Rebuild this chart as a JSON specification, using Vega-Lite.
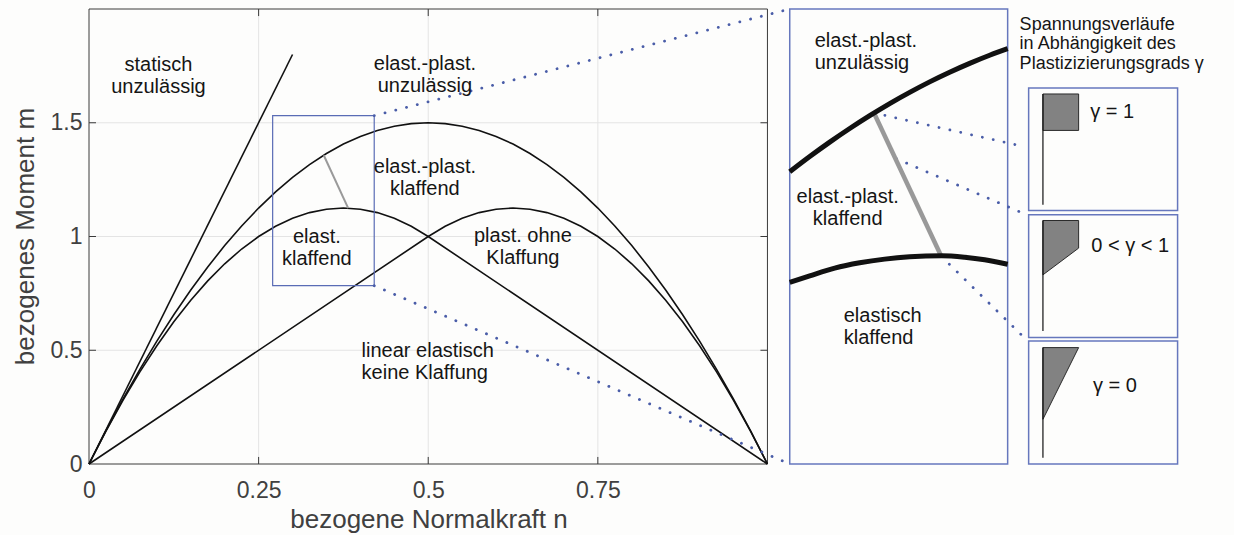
{
  "$schema": "https://vega.github.io/schema/vega-lite/v6.json",
  "width": 1133,
  "height": 455,
  "autosize": {"type": "none"},
  "padding": {"left": 89, "top": 9, "right": 12, "bottom": 71},
  "background": "#fdfdfc",
  "config": {"view": {"stroke": null}, "font": "Liberation Sans"},
  "datasets": {
    "grid": [
      {"x": 0.25, "x2": 0.25, "y": 0, "y2": 2},
      {"x": 0.5, "x2": 0.5, "y": 0, "y2": 2},
      {"x": 0.75, "x2": 0.75, "y": 0, "y2": 2},
      {"x": 0, "x2": 1, "y": 0.5, "y2": 0.5},
      {"x": 0, "x2": 1, "y": 1, "y2": 1},
      {"x": 0, "x2": 1, "y": 1.5, "y2": 1.5}
    ],
    "ticks": [
      {"x": 0.25, "x2": 0.25, "y": 0, "y2": 0.031},
      {"x": 0.5, "x2": 0.5, "y": 0, "y2": 0.031},
      {"x": 0.75, "x2": 0.75, "y": 0, "y2": 0.031},
      {"x": 0.25, "x2": 0.25, "y": 2, "y2": 1.969},
      {"x": 0.5, "x2": 0.5, "y": 2, "y2": 1.969},
      {"x": 0.75, "x2": 0.75, "y": 2, "y2": 1.969},
      {"x": 0, "x2": 0.0103, "y": 0.5, "y2": 0.5},
      {"x": 0, "x2": 0.0103, "y": 1, "y2": 1},
      {"x": 0, "x2": 0.0103, "y": 1.5, "y2": 1.5},
      {"x": 0.9897, "x2": 1, "y": 0.5, "y2": 0.5},
      {"x": 0.9897, "x2": 1, "y": 1, "y2": 1},
      {"x": 0.9897, "x2": 1, "y": 1.5, "y2": 1.5}
    ],
    "frame": [{"x": 0, "x2": 1, "y": 0, "y2": 2}],
    "curves": [
      {"curve": "statisch", "x": 0, "y": 0},
      {"curve": "statisch", "x": 0.3, "y": 1.8},
      {"curve": "parabel", "x": 0, "y": 0},
      {"curve": "parabel", "x": 0.025, "y": 0.14625},
      {"curve": "parabel", "x": 0.05, "y": 0.285},
      {"curve": "parabel", "x": 0.075, "y": 0.41625},
      {"curve": "parabel", "x": 0.1, "y": 0.54},
      {"curve": "parabel", "x": 0.125, "y": 0.65625},
      {"curve": "parabel", "x": 0.15, "y": 0.765},
      {"curve": "parabel", "x": 0.175, "y": 0.86625},
      {"curve": "parabel", "x": 0.2, "y": 0.96},
      {"curve": "parabel", "x": 0.225, "y": 1.04625},
      {"curve": "parabel", "x": 0.25, "y": 1.125},
      {"curve": "parabel", "x": 0.275, "y": 1.19625},
      {"curve": "parabel", "x": 0.3, "y": 1.26},
      {"curve": "parabel", "x": 0.325, "y": 1.31625},
      {"curve": "parabel", "x": 0.35, "y": 1.365},
      {"curve": "parabel", "x": 0.375, "y": 1.40625},
      {"curve": "parabel", "x": 0.4, "y": 1.44},
      {"curve": "parabel", "x": 0.425, "y": 1.46625},
      {"curve": "parabel", "x": 0.45, "y": 1.485},
      {"curve": "parabel", "x": 0.475, "y": 1.49625},
      {"curve": "parabel", "x": 0.5, "y": 1.5},
      {"curve": "parabel", "x": 0.525, "y": 1.49625},
      {"curve": "parabel", "x": 0.55, "y": 1.485},
      {"curve": "parabel", "x": 0.575, "y": 1.46625},
      {"curve": "parabel", "x": 0.6, "y": 1.44},
      {"curve": "parabel", "x": 0.625, "y": 1.40625},
      {"curve": "parabel", "x": 0.65, "y": 1.365},
      {"curve": "parabel", "x": 0.675, "y": 1.31625},
      {"curve": "parabel", "x": 0.7, "y": 1.26},
      {"curve": "parabel", "x": 0.725, "y": 1.19625},
      {"curve": "parabel", "x": 0.75, "y": 1.125},
      {"curve": "parabel", "x": 0.775, "y": 1.04625},
      {"curve": "parabel", "x": 0.8, "y": 0.96},
      {"curve": "parabel", "x": 0.825, "y": 0.86625},
      {"curve": "parabel", "x": 0.85, "y": 0.765},
      {"curve": "parabel", "x": 0.875, "y": 0.65625},
      {"curve": "parabel", "x": 0.9, "y": 0.54},
      {"curve": "parabel", "x": 0.925, "y": 0.41625},
      {"curve": "parabel", "x": 0.95, "y": 0.285},
      {"curve": "parabel", "x": 0.975, "y": 0.14625},
      {"curve": "parabel", "x": 1, "y": 0},
      {"curve": "elastisch", "x": 0, "y": 0},
      {"curve": "elastisch", "x": 0.025, "y": 0.145},
      {"curve": "elastisch", "x": 0.05, "y": 0.28},
      {"curve": "elastisch", "x": 0.075, "y": 0.405},
      {"curve": "elastisch", "x": 0.1, "y": 0.52},
      {"curve": "elastisch", "x": 0.125, "y": 0.625},
      {"curve": "elastisch", "x": 0.15, "y": 0.72},
      {"curve": "elastisch", "x": 0.175, "y": 0.805},
      {"curve": "elastisch", "x": 0.2, "y": 0.88},
      {"curve": "elastisch", "x": 0.225, "y": 0.945},
      {"curve": "elastisch", "x": 0.25, "y": 1.0},
      {"curve": "elastisch", "x": 0.275, "y": 1.045},
      {"curve": "elastisch", "x": 0.3, "y": 1.08},
      {"curve": "elastisch", "x": 0.325, "y": 1.105},
      {"curve": "elastisch", "x": 0.35, "y": 1.12},
      {"curve": "elastisch", "x": 0.375, "y": 1.125},
      {"curve": "elastisch", "x": 0.4, "y": 1.12},
      {"curve": "elastisch", "x": 0.425, "y": 1.105},
      {"curve": "elastisch", "x": 0.45, "y": 1.08},
      {"curve": "elastisch", "x": 0.475, "y": 1.045},
      {"curve": "elastisch", "x": 0.5, "y": 1.0},
      {"curve": "elastisch", "x": 1, "y": 0},
      {"curve": "plastisch", "x": 0, "y": 0},
      {"curve": "plastisch", "x": 0.5, "y": 1.0},
      {"curve": "plastisch", "x": 0.525, "y": 1.045},
      {"curve": "plastisch", "x": 0.55, "y": 1.08},
      {"curve": "plastisch", "x": 0.575, "y": 1.105},
      {"curve": "plastisch", "x": 0.6, "y": 1.12},
      {"curve": "plastisch", "x": 0.625, "y": 1.125},
      {"curve": "plastisch", "x": 0.65, "y": 1.12},
      {"curve": "plastisch", "x": 0.675, "y": 1.105},
      {"curve": "plastisch", "x": 0.7, "y": 1.08},
      {"curve": "plastisch", "x": 0.725, "y": 1.045},
      {"curve": "plastisch", "x": 0.75, "y": 1.0},
      {"curve": "plastisch", "x": 0.775, "y": 0.945},
      {"curve": "plastisch", "x": 0.8, "y": 0.88},
      {"curve": "plastisch", "x": 0.825, "y": 0.805},
      {"curve": "plastisch", "x": 0.85, "y": 0.72},
      {"curve": "plastisch", "x": 0.875, "y": 0.625},
      {"curve": "plastisch", "x": 0.9, "y": 0.52},
      {"curve": "plastisch", "x": 0.925, "y": 0.405},
      {"curve": "plastisch", "x": 0.95, "y": 0.28},
      {"curve": "plastisch", "x": 0.975, "y": 0.145},
      {"curve": "plastisch", "x": 1, "y": 0}
    ],
    "greyMain": [{"x": 0.346, "y": 1.357, "x2": 0.382, "y2": 1.125}],
    "zoomRect": [{"x": 0.2707, "x2": 0.4204, "y": 0.784, "y2": 1.531}],
    "dotted": [
      {"x": 0.4204, "y": 1.531, "x2": 1.03286, "y2": 2.0},
      {"x": 0.4204, "y": 0.784, "x2": 1.03286, "y2": 0.0},
      {"x": 1.15706, "y": 1.54289, "x2": 1.37911, "y2": 1.39463},
      {"x": 1.19007, "y": 1.34184, "x2": 1.38206, "y2": 1.09547},
      {"x": 1.25637, "y": 0.91201, "x2": 1.38309, "y2": 0.54245}
    ],
    "boxes": [
      {"x": 1.03286, "x2": 1.35406, "y": 0, "y2": 2},
      {"x": 1.385, "x2": 1.60454, "y": 1.11439, "y2": 1.65288},
      {"x": 1.385, "x2": 1.60454, "y": 0.55566, "y2": 1.09547},
      {"x": 1.385, "x2": 1.60454, "y": 0, "y2": 0.54113}
    ],
    "insetCurves": [
      {"curve": "oben", "x": 1.03286, "y": 1.2846},
      {"curve": "oben", "x": 1.06233, "y": 1.3515},
      {"curve": "oben", "x": 1.0918, "y": 1.4149},
      {"curve": "oben", "x": 1.12126, "y": 1.4747},
      {"curve": "oben", "x": 1.15073, "y": 1.5312},
      {"curve": "oben", "x": 1.1802, "y": 1.5843},
      {"curve": "oben", "x": 1.20966, "y": 1.6335},
      {"curve": "oben", "x": 1.23913, "y": 1.6797},
      {"curve": "oben", "x": 1.2686, "y": 1.722},
      {"curve": "oben", "x": 1.29807, "y": 1.7611},
      {"curve": "oben", "x": 1.32754, "y": 1.7968},
      {"curve": "oben", "x": 1.35406, "y": 1.8258},
      {"curve": "unten", "x": 1.03286, "y": 0.7985},
      {"curve": "unten", "x": 1.06233, "y": 0.8271},
      {"curve": "unten", "x": 1.09916, "y": 0.86098},
      {"curve": "unten", "x": 1.136, "y": 0.88429},
      {"curve": "unten", "x": 1.17283, "y": 0.90057},
      {"curve": "unten", "x": 1.20966, "y": 0.91069},
      {"curve": "unten", "x": 1.25681, "y": 0.91509},
      {"curve": "unten", "x": 1.2907, "y": 0.90849},
      {"curve": "unten", "x": 1.32017, "y": 0.89749},
      {"curve": "unten", "x": 1.35406, "y": 0.8777}
    ],
    "greyInset": [{"x": 1.15706, "y": 1.54289, "x2": 1.25637, "y2": 0.91201}],
    "stems": [
      {"x": 1.40607, "x2": 1.40607, "y": 1.62649, "y2": 1.13946},
      {"x": 1.40607, "x2": 1.40607, "y": 1.07039, "y2": 0.58513},
      {"x": 1.40607, "x2": 1.40607, "y": 0.51166, "y2": 0.02772}
    ],
    "stress": [
      {"shape": "g1", "y": 1.62649, "x": 1.45867, "x2": 1.40607},
      {"shape": "g1", "y": 1.46634, "x": 1.45867, "x2": 1.40607},
      {"shape": "g2", "y": 1.07039, "x": 1.45867, "x2": 1.40607},
      {"shape": "g2", "y": 0.94897, "x": 1.45867, "x2": 1.40607},
      {"shape": "g2", "y": 0.8315, "x": 1.40607, "x2": 1.40607},
      {"shape": "g3", "y": 0.51166, "x": 1.45867, "x2": 1.40607},
      {"shape": "g3", "y": 0.19666, "x": 1.40607, "x2": 1.40607}
    ],
    "textCenter": [
      {"x": 0.1024, "y": 1.7259, "label": "statisch\nunzulässig"},
      {"x": 0.4951, "y": 1.7334, "label": "elast.-plast.\nunzulässig"},
      {"x": 0.4951, "y": 1.2789, "label": "elast.-plast.\nklaffend"},
      {"x": 0.3359, "y": 0.971, "label": "elast.\nklaffend"},
      {"x": 0.6395, "y": 0.978, "label": "plast.  ohne\nKlaffung"},
      {"x": 1.1183, "y": 1.1469, "label": "elast.-plast.\nklaffend"}
    ],
    "textLeft": [
      {"x": 0.4018, "y": 0.4721, "label": "linear elastisch\nkeine Klaffung"},
      {"x": 1.0697, "y": 1.8333, "label": "elast.-plast.\nunzulässig"},
      {"x": 1.1124, "y": 0.6261, "label": "elastisch\nklaffend"}
    ],
    "header": [
      {"x": 1.3717, "y": 1.9094, "label": "Spannungsverläufe\nin Abhängigkeit des\nPlastizizierungsgrads γ"}
    ],
    "boxLabels": [
      {"x": 1.4759, "y": 1.5209, "label": "γ = 1"},
      {"x": 1.4774, "y": 0.934, "label": "0 < γ < 1"},
      {"x": 1.4797, "y": 0.3181, "label": "γ = 0"}
    ]
  },
  "layer": [
    {
      "data": {"name": "grid"},
      "mark": {"type": "rule", "color": "#e4e4e4", "strokeWidth": 1},
      "encoding": {
        "x": {
          "field": "x", "type": "quantitative",
          "scale": {"domain": [0, 1.67], "nice": false, "zero": false},
          "axis": {
            "values": [0, 0.25, 0.5, 0.75], "format": "~g",
            "title": "bezogene Normalkraft n",
            "domain": false, "ticks": false, "tickSize": 0, "grid": false,
            "labelFontSize": 23, "labelColor": "#404040", "labelFont": "Liberation Sans",
            "labelBaseline": "alphabetic", "labelPadding": 33,
            "labelFlush": false, "labelOverlap": false,
            "titleFontSize": 26, "titleFontWeight": "normal", "titleColor": "#404040", "titleFont": "Liberation Sans",
            "titleX": 339.5, "titleY": 63, "titleBaseline": "alphabetic", "titleAlign": "center"
          }
        },
        "x2": {"field": "x2"},
        "y": {
          "field": "y", "type": "quantitative",
          "scale": {"domain": [0, 2], "nice": false, "zero": false},
          "axis": {
            "values": [0, 0.5, 1, 1.5], "format": "~g",
            "title": "bezogenes Moment m",
            "domain": false, "ticks": false, "tickSize": 0, "grid": false,
            "labelFontSize": 23, "labelColor": "#404040", "labelFont": "Liberation Sans",
            "labelPadding": 7, "labelBaseline": "middle",
            "labelFlush": false, "labelOverlap": false,
            "titleFontSize": 26, "titleFontWeight": "normal", "titleColor": "#404040", "titleFont": "Liberation Sans",
            "titleX": -56, "titleY": 227, "titleBaseline": "alphabetic", "titleAlign": "center", "titleAngle": 270
          }
        },
        "y2": {"field": "y2"}
      }
    },
    {
      "data": {"name": "ticks"},
      "mark": {"type": "rule", "color": "#3a3a3a", "strokeWidth": 1},
      "encoding": {
        "x": {"field": "x", "type": "quantitative"},
        "x2": {"field": "x2"},
        "y": {"field": "y", "type": "quantitative"},
        "y2": {"field": "y2"}
      }
    },
    {
      "data": {"name": "frame"},
      "mark": {"type": "rect", "filled": false, "stroke": "#3a3a3a", "strokeWidth": 1},
      "encoding": {
        "x": {"field": "x", "type": "quantitative"},
        "x2": {"field": "x2"},
        "y": {"field": "y", "type": "quantitative"},
        "y2": {"field": "y2"}
      }
    },
    {
      "data": {"name": "curves"},
      "mark": {"type": "line", "color": "#111111", "strokeWidth": 1.6},
      "encoding": {
        "x": {"field": "x", "type": "quantitative"},
        "y": {"field": "y", "type": "quantitative"},
        "detail": {"field": "curve", "type": "nominal"}
      }
    },
    {
      "data": {"name": "greyMain"},
      "mark": {"type": "rule", "color": "#9a9a9a", "strokeWidth": 2},
      "encoding": {
        "x": {"field": "x", "type": "quantitative"},
        "x2": {"field": "x2"},
        "y": {"field": "y", "type": "quantitative"},
        "y2": {"field": "y2"}
      }
    },
    {
      "data": {"name": "zoomRect"},
      "mark": {"type": "rect", "filled": false, "stroke": "#5a6cb5", "strokeWidth": 1.2},
      "encoding": {
        "x": {"field": "x", "type": "quantitative"},
        "x2": {"field": "x2"},
        "y": {"field": "y", "type": "quantitative"},
        "y2": {"field": "y2"}
      }
    },
    {
      "data": {"name": "boxes"},
      "mark": {"type": "rect", "filled": false, "stroke": "#6677bd", "strokeWidth": 1.5},
      "encoding": {
        "x": {"field": "x", "type": "quantitative"},
        "x2": {"field": "x2"},
        "y": {"field": "y", "type": "quantitative"},
        "y2": {"field": "y2"}
      }
    },
    {
      "data": {"name": "dotted"},
      "mark": {"type": "rule", "color": "#4a5da8", "strokeWidth": 2.8, "strokeCap": "round", "strokeDash": [0.1, 11]},
      "encoding": {
        "x": {"field": "x", "type": "quantitative"},
        "x2": {"field": "x2"},
        "y": {"field": "y", "type": "quantitative"},
        "y2": {"field": "y2"}
      }
    },
    {
      "data": {"name": "greyInset"},
      "mark": {"type": "rule", "color": "#999999", "strokeWidth": 4.5},
      "encoding": {
        "x": {"field": "x", "type": "quantitative"},
        "x2": {"field": "x2"},
        "y": {"field": "y", "type": "quantitative"},
        "y2": {"field": "y2"}
      }
    },
    {
      "data": {"name": "insetCurves"},
      "mark": {"type": "line", "color": "#111111", "strokeWidth": 5, "interpolate": "monotone"},
      "encoding": {
        "x": {"field": "x", "type": "quantitative"},
        "y": {"field": "y", "type": "quantitative"},
        "detail": {"field": "curve", "type": "nominal"}
      }
    },
    {
      "data": {"name": "stress"},
      "mark": {"type": "area", "orient": "horizontal", "color": "#828282", "stroke": "#2a2a2a", "strokeWidth": 1, "opacity": 1},
      "encoding": {
        "y": {"field": "y", "type": "quantitative"},
        "x": {"field": "x", "type": "quantitative"},
        "x2": {"field": "x2"},
        "detail": {"field": "shape", "type": "nominal"}
      }
    },
    {
      "data": {"name": "stems"},
      "mark": {"type": "rule", "color": "#111111", "strokeWidth": 1.2},
      "encoding": {
        "x": {"field": "x", "type": "quantitative"},
        "x2": {"field": "x2"},
        "y": {"field": "y", "type": "quantitative"},
        "y2": {"field": "y2"}
      }
    },
    {
      "data": {"name": "textCenter"},
      "mark": {"type": "text", "align": "center", "baseline": "alphabetic", "fontSize": 20, "lineHeight": 22, "lineBreak": "\n", "color": "#151515", "font": "Liberation Sans"},
      "encoding": {
        "x": {"field": "x", "type": "quantitative"},
        "y": {"field": "y", "type": "quantitative"},
        "text": {"field": "label"}
      }
    },
    {
      "data": {"name": "textLeft"},
      "mark": {"type": "text", "align": "left", "baseline": "alphabetic", "fontSize": 20, "lineHeight": 22, "lineBreak": "\n", "color": "#151515", "font": "Liberation Sans"},
      "encoding": {
        "x": {"field": "x", "type": "quantitative"},
        "y": {"field": "y", "type": "quantitative"},
        "text": {"field": "label"}
      }
    },
    {
      "data": {"name": "header"},
      "mark": {"type": "text", "align": "left", "baseline": "alphabetic", "fontSize": 18, "lineHeight": 19.5, "lineBreak": "\n", "color": "#151515", "font": "Liberation Sans"},
      "encoding": {
        "x": {"field": "x", "type": "quantitative"},
        "y": {"field": "y", "type": "quantitative"},
        "text": {"field": "label"}
      }
    },
    {
      "data": {"name": "boxLabels"},
      "mark": {"type": "text", "align": "left", "baseline": "alphabetic", "fontSize": 20, "color": "#151515", "font": "Liberation Sans"},
      "encoding": {
        "x": {"field": "x", "type": "quantitative"},
        "y": {"field": "y", "type": "quantitative"},
        "text": {"field": "label"}
      }
    }
  ]
}
